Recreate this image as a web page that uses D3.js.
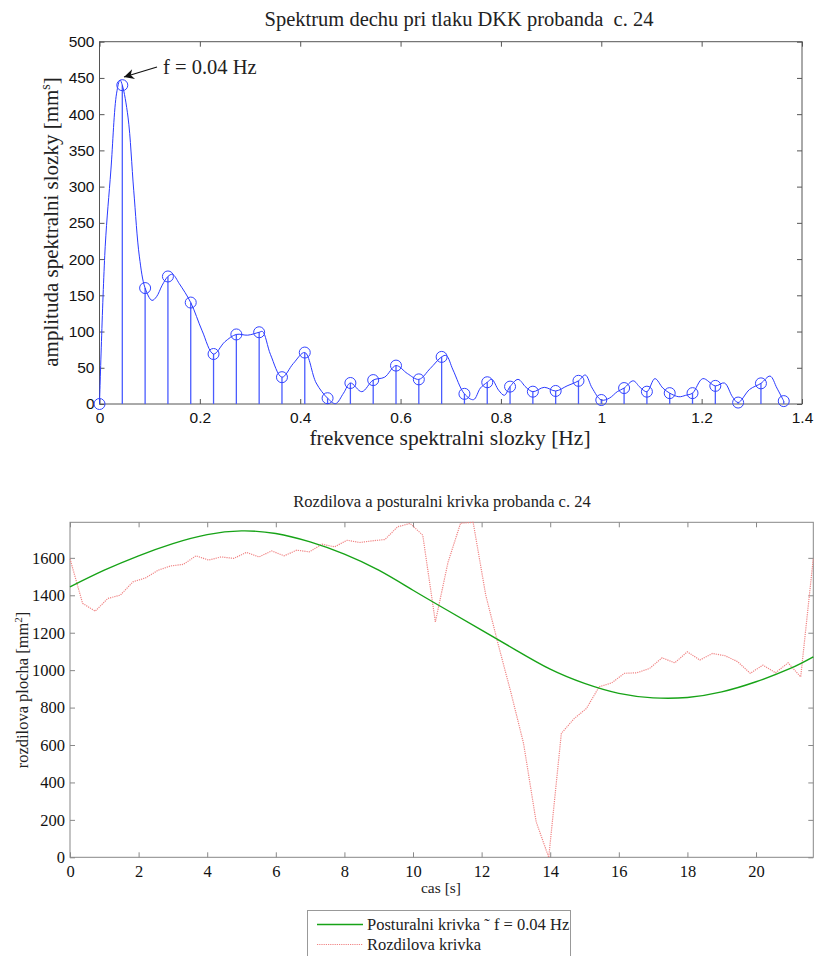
<!DOCTYPE html>
<html>
<head>
<meta charset="utf-8">
<title>Spektrum dechu</title>
<script src="https://d3js.org/d3.v7.min.js"></script>
<style>
  body { margin: 0; background: #fff; }
  .serif { font-family: "Liberation Serif", "Times New Roman", serif; fill: #222; }
  .tickTop text { font-family: "Liberation Sans", Arial, sans-serif; font-size: 15.5px; fill: #111; }
  .tickBot text { font-family: "Liberation Serif", serif; font-size: 16.5px; fill: #111; }
  .tickTop line { stroke: #555; }
  .tickBot line { stroke: #888; }
</style>
</head>
<body>
<div id="chart"></div>
<script>
// spectrum: stems at k * df (df = 1/22 Hz)
var df = 1 / 22;
var stemAmp = [0, 440, 160, 176, 140, 69, 96, 99, 37, 71, 8, 29, 33, 53, 34, 65,
  14, 30, 24, 17, 18, 32, 5.5, 22, 17, 15, 15, 25, 2, 28.5, 4];

// the smooth (interpolated) spectrum line, x in steps of df
var curveStep = [0, 0.25, 0.5, 0.75, 0.9, 1, 1.25, 1.5, 1.75, 2, 2.3, 2.5, 2.75, 3, 3.2, 3.5, 4, 4.5, 5, 5.5,
  6, 6.5, 7, 7.15, 7.5, 8, 8.5, 9, 9.5, 10, 10.35, 10.7, 11, 11.5, 12, 12.5, 13, 13.5, 14, 14.5,
  15, 15.2, 15.5, 16, 16.4, 16.7, 17, 17.2, 17.5, 17.75, 18, 18.35, 18.7, 19, 19.5, 20, 20.5,
  21, 21.3, 21.6, 22, 22.35, 22.7, 23, 23.4, 23.7, 24, 24.35, 24.7, 25, 25.4, 25.7, 26, 26.45,
  27, 27.4, 27.75, 28, 28.5, 29, 29.4, 29.7, 30];
var curveAmp = [0, 217, 323, 429, 447, 440, 396, 295, 203, 160, 143, 148, 164, 176, 179, 166, 140, 101, 69, 86,
  96, 95, 99, 100, 68, 37, 56, 71, 29, 8, 0.5, 15, 29, 17, 33, 37, 53, 42, 34, 49,
  65, 67, 47, 14, 6, 22, 30, 34, 19, 12, 24, 34, 23, 17, 23, 18, 25,
  32, 40, 22, 5.5, 8, 17, 22, 32, 23, 17, 35, 22, 15, 10, 12, 15, 35,
  25, 29, 10, 2, 20, 28.5, 38.5, 22, 4];

// time curves, 0 .. 21.67 s
var tEnd = 21.67;
var greenT = [0, 1, 2, 3, 4, 5, 6, 7, 8, 9, 10, 11, 12, 13, 14, 15, 16, 17, 18, 19, 20, 21, 21.67];
var greenV = [1445, 1534, 1611, 1676, 1724, 1744, 1730, 1685, 1620, 1534, 1427, 1320, 1214, 1107,
  1005, 929, 876, 852, 854, 884, 938, 1009, 1071];
var redV = [1595, 1357, 1315, 1383, 1401, 1472, 1493, 1534, 1557, 1565,
  1611, 1588, 1605, 1597, 1629, 1605, 1637, 1611, 1641, 1632,
  1673, 1659, 1694, 1682, 1691, 1698, 1766, 1784, 1721, 1258,
  1575, 1785, 1790, 1401, 1135, 880, 609, 190, 0, 662,
  740, 796, 911, 932, 983, 986, 1009, 1066, 1039, 1098,
  1054, 1089, 1077, 1045, 983, 1027, 986, 1039, 964, 1597];

var xTicksTop = [0, 0.2, 0.4, 0.6, 0.8, 1, 1.2, 1.4];
var yTicksTop = d3.range(0, 501, 50);
var xTicksBot = d3.range(0, 21, 2);
var yTicksBot = d3.range(0, 1601, 200);

var W = 814, H = 956;
var svg = d3.select("#chart").append("svg").attr("width", W).attr("height", H);

// ---------- top chart ----------
var x1 = d3.scaleLinear().domain([0, 1.4]).range([99.5, 802]);
var y1 = d3.scaleLinear().domain([0, 500]).range([404, 41.7]);

function boxAxes(g, x, y, xt, yt, cls, fmtX, fmtY) {
  var left = x.range()[0], right = x.range()[1], bottom = y.range()[0], upper = y.range()[1];
  g.append("g").attr("class", cls).attr("transform", "translate(0," + bottom + ")")
    .call(d3.axisBottom(x).tickValues(xt).tickSizeInner(-5).tickSizeOuter(0).tickPadding(8).tickFormat(fmtX))
    .call(function(s) { s.select(".domain").remove(); });
  g.append("g").attr("class", cls).attr("transform", "translate(0," + upper + ")")
    .call(d3.axisTop(x).tickValues(xt).tickSizeInner(-5).tickSizeOuter(0).tickFormat(""))
    .call(function(s) { s.select(".domain").remove(); });
  g.append("g").attr("class", cls).attr("transform", "translate(" + left + ",0)")
    .call(d3.axisLeft(y).tickValues(yt).tickSizeInner(-5).tickSizeOuter(0).tickPadding(5).tickFormat(fmtY))
    .call(function(s) { s.select(".domain").remove(); });
  g.append("g").attr("class", cls).attr("transform", "translate(" + right + ",0)")
    .call(d3.axisRight(y).tickValues(yt).tickSizeInner(-5).tickSizeOuter(0).tickFormat(""))
    .call(function(s) { s.select(".domain").remove(); });
}

var gTop = svg.append("g");
gTop.append("rect").attr("x", 99.5).attr("y", 41.7).attr("width", 802 - 99.5).attr("height", 404 - 41.7)
  .attr("fill", "none").attr("stroke", "#555");
boxAxes(gTop, x1, y1, xTicksTop, yTicksTop, "tickTop", d3.format("~g"), d3.format("d"));

// stems
gTop.selectAll(".stem").data(stemAmp).enter().append("line")
  .attr("x1", function(d, i) { return x1(i * df); })
  .attr("x2", function(d, i) { return x1(i * df); })
  .attr("y1", y1(0))
  .attr("y2", function(d) { return y1(d); })
  .attr("stroke", "#4a5cff").attr("stroke-width", 1.3);

// smooth spectrum line
var specLine = d3.line()
  .x(function(d, i) { return x1(curveStep[i] * df); })
  .y(function(d) { return y1(d); })
  .curve(d3.curveCatmullRom.alpha(0.5));
gTop.append("path").attr("d", specLine(curveAmp))
  .attr("fill", "none").attr("stroke", "#2a3aff").attr("stroke-width", 1);

gTop.selectAll(".mk").data(stemAmp).enter().append("circle")
  .attr("cx", function(d, i) { return x1(i * df); })
  .attr("cy", function(d) { return y1(d); })
  .attr("r", 5.5)
  .attr("fill", "none").attr("stroke", "#3344ff").attr("stroke-width", 1);

// annotation
svg.append("defs").append("marker").attr("id", "ah")
  .attr("viewBox", "0 0 10 10").attr("refX", 10).attr("refY", 5)
  .attr("markerWidth", 14).attr("markerHeight", 10).attr("markerUnits", "userSpaceOnUse")
  .attr("orient", "auto")
  .append("path").attr("d", "M0,0 L10,5 L0,10 L3,5 z").attr("fill", "#111");
gTop.append("line").attr("x1", 157).attr("y1", 67).attr("x2", 124).attr("y2", 77)
  .attr("stroke", "#111").attr("stroke-width", 1.2).attr("marker-end", "url(#ah)");
gTop.append("text").attr("class", "serif").attr("x", 163).attr("y", 74)
  .style("font-size", "20.5px").text("f = 0.04 Hz");

gTop.append("text").attr("class", "serif").attr("x", 459).attr("y", 26)
  .attr("text-anchor", "middle").style("font-size", "20.5px").style("white-space", "pre")
  .text("Spektrum dechu pri tlaku DKK probanda  c. 24");
gTop.append("text").attr("class", "serif").attr("x", 450).attr("y", 445)
  .attr("text-anchor", "middle").style("font-size", "21.5px")
  .text("frekvence spektralni slozky [Hz]");
var yl = gTop.append("text").attr("class", "serif")
  .attr("transform", "translate(58,222) rotate(-90)")
  .attr("text-anchor", "middle").style("font-size", "21px");
yl.append("tspan").text("amplituda spektralni slozky [mm");
yl.append("tspan").attr("dy", -8).style("font-size", "14px").text("s");
yl.append("tspan").attr("dy", 8).text("]");

// ---------- bottom chart ----------
var x2 = d3.scaleLinear().domain([0, tEnd]).range([70, 813.3]);
var y2 = d3.scaleLinear().domain([0, 1790]).range([857.3, 522.3]);

var gBot = svg.append("g");
gBot.append("rect").attr("x", 70).attr("y", 522.3).attr("width", 813.3 - 70).attr("height", 857.3 - 522.3)
  .attr("fill", "none").attr("stroke", "#888");
boxAxes(gBot, x2, y2, xTicksBot, yTicksBot, "tickBot", d3.format("d"), d3.format("d"));

var dt = tEnd / (redV.length - 1);
var redLine = d3.line()
  .x(function(d, i) { return x2(i * dt); })
  .y(function(d) { return y2(d); });
gBot.append("path").attr("d", redLine(redV))
  .attr("fill", "none").attr("stroke", "#f08484").attr("stroke-width", 1.2)
  .attr("stroke-dasharray", "1.2,1");

var greenLine = d3.line()
  .x(function(d, i) { return x2(greenT[i]); })
  .y(function(d) { return y2(d); })
  .curve(d3.curveNatural);
gBot.append("path").attr("d", greenLine(greenV))
  .attr("fill", "none").attr("stroke", "#17a317").attr("stroke-width", 1.4);

gBot.append("text").attr("class", "serif").attr("x", 442).attr("y", 507)
  .attr("text-anchor", "middle").style("font-size", "16.5px")
  .text("Rozdilova a posturalni krivka probanda c. 24");
gBot.append("text").attr("class", "serif").attr("x", 441).attr("y", 893)
  .attr("text-anchor", "middle").style("font-size", "15.5px").text("cas [s]");
var yl2 = gBot.append("text").attr("class", "serif")
  .attr("transform", "translate(28,690) rotate(-90)")
  .attr("text-anchor", "middle").style("font-size", "16.5px");
yl2.append("tspan").text("rozdilova plocha [mm");
yl2.append("tspan").attr("dy", -6).style("font-size", "11px").text("2");
yl2.append("tspan").attr("dy", 6).text("]");

// legend
var lg = svg.append("g");
lg.append("rect").attr("x", 307.5).attr("y", 910.5).attr("width", 263).attr("height", 60)
  .attr("fill", "#fff").attr("stroke", "#999");
lg.append("line").attr("x1", 317).attr("x2", 363).attr("y1", 924.5).attr("y2", 924.5)
  .attr("stroke", "#17a317").attr("stroke-width", 1.4);
lg.append("line").attr("x1", 317).attr("x2", 363).attr("y1", 944.5).attr("y2", 944.5)
  .attr("stroke", "#f08484").attr("stroke-width", 1.2).attr("stroke-dasharray", "1.2,1");
lg.append("text").attr("class", "serif").attr("x", 367).attr("y", 929.5)
  .style("font-size", "16.5px").text("Posturalni krivka \u02dc f = 0.04 Hz");
lg.append("text").attr("class", "serif").attr("x", 367).attr("y", 949.5)
  .style("font-size", "16.5px").text("Rozdilova krivka");
</script>
</body>
</html>
